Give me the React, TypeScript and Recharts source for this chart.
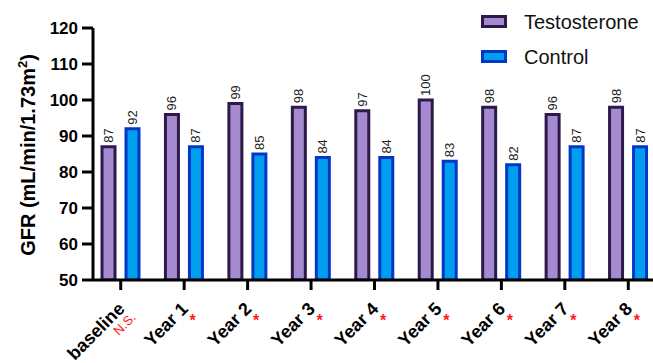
import React from "react";
import {
  BarChart,
  Bar,
  XAxis,
  YAxis,
  Legend,
  LabelList,
  Label,
} from "recharts";

const categories = [
  "baseline",
  "Year 1",
  "Year 2",
  "Year 3",
  "Year 4",
  "Year 5",
  "Year 6",
  "Year 7",
  "Year 8",
];
const testosterone = [87, 96, 99, 98, 97, 100, 98, 96, 98];
const control = [92, 87, 85, 84, 84, 83, 82, 87, 87];
const significance = ["N.S.", "*", "*", "*", "*", "*", "*", "*", "*"];
const yTicks = [50, 60, 70, 80, 90, 100, 110, 120];

const FONT = "Arial, 'Liberation Sans', sans-serif";

const PURPLE_FILL = "#A68ACF";
const PURPLE_EDGE = "#2D1A4B";
const BLUE_FILL = "#009EEE";
const BLUE_EDGE = "#0636C6";

const chartData = categories.map((name, i) => ({
  name,
  testosterone: testosterone[i],
  control: control[i],
}));

// rotated category label plus the red significance mark
const CategoryTick = (props: any) => {
  const { x, y, payload } = props;
  const sig = significance[payload.index];
  return (
    <g>
      <g transform={`translate(${x + 5}, ${y + 18}) rotate(-45)`}>
        <text
          x={0}
          y={0}
          textAnchor="end"
          fontFamily={FONT}
          fontWeight="bold"
          fontSize={18}
          fill="#000"
        >
          {payload.value}
        </text>
      </g>
      {sig === "*" ? (
        <text
          x={x + 8.5}
          y={y + 34}
          textAnchor="middle"
          fontFamily={FONT}
          fontWeight="bold"
          fontSize={16}
          fill="#FF1A1A"
        >
          *
        </text>
      ) : (
        <g transform={`translate(${x - 2}, ${y + 44}) rotate(-45)`}>
          <text
            x={0}
            y={0}
            textAnchor="start"
            fontFamily={FONT}
            fontSize={13}
            fill="#FF1A1A"
          >
            {sig}
          </text>
        </g>
      )}
    </g>
  );
};

// value printed vertically above each bar
const ValueLabel = (props: any) => {
  const { x, y, width, value } = props;
  const cx = x + width / 2;
  const ty = y - 4;
  return (
    <text
      x={cx}
      y={ty}
      transform={`rotate(-90, ${cx}, ${ty})`}
      textAnchor="start"
      dominantBaseline="central"
      fontFamily={FONT}
      fontSize={13}
      fill="#222"
    >
      {value}
    </text>
  );
};

const YTitle = () => (
  <text
    x={35}
    y={155}
    transform="rotate(-90, 35, 155)"
    textAnchor="middle"
    fontFamily={FONT}
    fontWeight="bold"
    fontSize={20}
    fill="#000"
  >
    GFR (mL/min/1.73m
    <tspan dy={-8} fontSize={13}>
      2
    </tspan>
    <tspan dy={8}>)</tspan>
  </text>
);

const legendItems = [
  { label: "Testosterone", fill: PURPLE_FILL, edge: PURPLE_EDGE },
  { label: "Control", fill: BLUE_FILL, edge: BLUE_EDGE },
];

const LegendBox = () => (
  <div style={{ fontFamily: FONT }}>
    {legendItems.map((item) => (
      <div
        key={item.label}
        style={{ display: "flex", alignItems: "center", height: 35 }}
      >
        <svg width={26} height={13} style={{ display: "block" }}>
          <rect
            x={1.5}
            y={1.5}
            width={23}
            height={10}
            fill={item.fill}
            stroke={item.edge}
            strokeWidth={3}
          />
        </svg>
        <span
          style={{
            marginLeft: 17,
            fontSize: 20,
            color: "#111",
            lineHeight: "20px",
          }}
        >
          {item.label}
        </span>
      </div>
    ))}
  </div>
);

export default function App() {
  return (
    <div
      style={{
        position: "absolute",
        left: 0,
        top: 0,
        width: 653,
        height: 363,
        background: "#fff",
        overflow: "hidden",
      }}
    >
      <BarChart
        width={653}
        height={363}
        data={chartData}
        margin={{ top: 28, right: 0, bottom: 0, left: 0 }}
        barSize={13}
        barGap={11}
      >
        <XAxis
          dataKey="name"
          height={83}
          interval={0}
          padding={{ left: -4, right: -7 }}
          tickSize={10}
          tickMargin={2}
          axisLine={{ stroke: "#000", strokeWidth: 3 }}
          tickLine={{ stroke: "#000", strokeWidth: 3 }}
          tick={<CategoryTick />}
        />
        <YAxis
          width={93}
          domain={[50, 120]}
          ticks={yTicks}
          allowDataOverflow
          tickSize={11}
          tickMargin={4}
          axisLine={{ stroke: "#000", strokeWidth: 3 }}
          tickLine={{ stroke: "#000", strokeWidth: 3 }}
          tick={{
            fill: "#000",
            fontSize: 17,
            fontWeight: "bold",
            fontFamily: FONT,
          }}
        >
          <Label content={<YTitle />} />
        </YAxis>
        <Legend
          layout="horizontal"
          verticalAlign="middle"
          align="center"
          content={<LegendBox />}
          wrapperStyle={{ top: 4, left: 481, width: 170 }}
        />
        <Bar
          dataKey="testosterone"
          name="Testosterone"
          fill={PURPLE_FILL}
          stroke={PURPLE_EDGE}
          strokeWidth={3}
          isAnimationActive={false}
        >
          <LabelList dataKey="testosterone" content={<ValueLabel />} />
        </Bar>
        <Bar
          dataKey="control"
          name="Control"
          fill={BLUE_FILL}
          stroke={BLUE_EDGE}
          strokeWidth={3}
          isAnimationActive={false}
        >
          <LabelList dataKey="control" content={<ValueLabel />} />
        </Bar>
      </BarChart>
    </div>
  );
}
